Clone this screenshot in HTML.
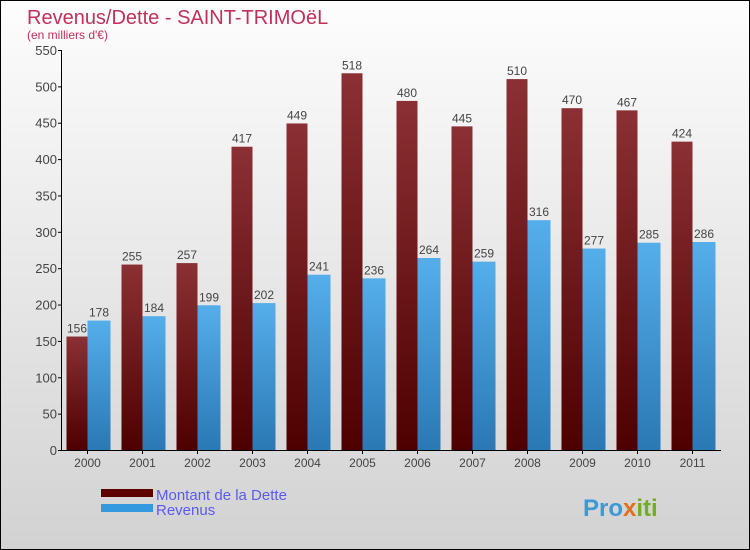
<!DOCTYPE html>
<html><head><meta charset="utf-8"><style>
body{margin:0}
#c{position:relative;width:748px;height:548px;border:1px solid #000;background:linear-gradient(#fdfdfd,#d2d2d2);font-family:"Liberation Sans",sans-serif;overflow:hidden}
</style></head><body>
<div id="c">
<svg id="s" width="748" height="548" xmlns="http://www.w3.org/2000/svg">
<defs>
<linearGradient id="gd" x1="0" y1="0" x2="0" y2="1"><stop offset="0" stop-color="#8b3034"/><stop offset="1" stop-color="#4e0000"/></linearGradient>
<linearGradient id="gr" x1="0" y1="0" x2="0" y2="1"><stop offset="0" stop-color="#55aeea"/><stop offset="1" stop-color="#2a78b4"/></linearGradient>
</defs>
<text x="26" y="23" font-size="20" fill="#c0305a">Revenus/Dette - SAINT-TRIMOëL</text>
<text x="26" y="38" font-size="12" fill="#c0305a">(en milliers d'€)</text>
<g id="axes"></g><g id="bars"></g>
<rect x="100" y="488" width="52" height="8" fill="#5e0000"/>
<text x="155" y="499" font-size="15" fill="#5a5aee">Montant de la Dette</text>
<rect x="100" y="503" width="52" height="8" fill="#3599e0"/>
<text x="155" y="514" font-size="15" fill="#5a5aee">Revenus</text>
<text x="582" y="515" font-size="24" font-weight="bold" fill="#3a9ad8">Pro<tspan fill="#e07020">x</tspan><tspan fill="#70b020">iti</tspan></text>
</svg>
</div>
<script>
const years=["2000","2001","2002","2003","2004","2005","2006","2007","2008","2009","2010","2011"];
const dette=[156,255,257,417,449,518,480,445,510,470,467,424];
const revenus=[178,184,199,202,241,236,264,259,316,277,285,286];
const ticks=[0,50,100,150,200,250,300,350,400,450,500,550];
const NS="http://www.w3.org/2000/svg";
const y=v=>449-v*400/550;
const xc=i=>86.5+i*55;
function mk(t,a,p){const e=document.createElementNS(NS,t);for(const k in a)e.setAttribute(k,a[k]);p.appendChild(e);return e;}
const ax=document.getElementById('axes'),bg=document.getElementById('bars');
const yl=mk('line',{x1:60.5,y1:y(550),x2:60.5,y2:y(0),stroke:'#000'},ax);


const xl=mk('line',{x1:60,y1:y(0)+0.5,x2:720,y2:y(0)+0.5,stroke:'#000'},ax);


ticks.forEach(t=>{
 mk('line',{x1:57,x2:61,y1:y(t)+0.5,y2:y(t)+0.5,stroke:'#000'},ax);
 const tx=mk('text',{x:56,y:y(t)+5,'text-anchor':'end','font-size':13,fill:'#444'},ax);
 tx.textContent=t;
 
 
});
years.forEach((yr,i)=>{
 const c=xc(i);
 mk('line',{x1:c,x2:c,y1:y(0),y2:y(0)+4,stroke:'#000'},ax);
 const tl=mk('text',{x:c,y:466,'text-anchor':'middle','font-size':12,fill:'#444'},ax);
 tl.textContent=yr;
 
 
 const b1=mk('rect',{x:c-21,y:y(dette[i]),width:21,height:y(0)-y(dette[i]),fill:'url(#gd)'},bg);
 
 
 const b2=mk('rect',{x:c,y:y(revenus[i]),width:23,height:y(0)-y(revenus[i]),fill:'url(#gr)'},bg);
 
 
 const l1=mk('text',{x:c-10.5,y:y(dette[i])-4,'text-anchor':'middle','font-size':12,fill:'#444'},bg);
 l1.textContent=dette[i];
 
 
 const l2=mk('text',{x:c+11.5,y:y(revenus[i])-4,'text-anchor':'middle','font-size':12,fill:'#444'},bg);
 l2.textContent=revenus[i];
 
 
});
</script>
</body></html>
